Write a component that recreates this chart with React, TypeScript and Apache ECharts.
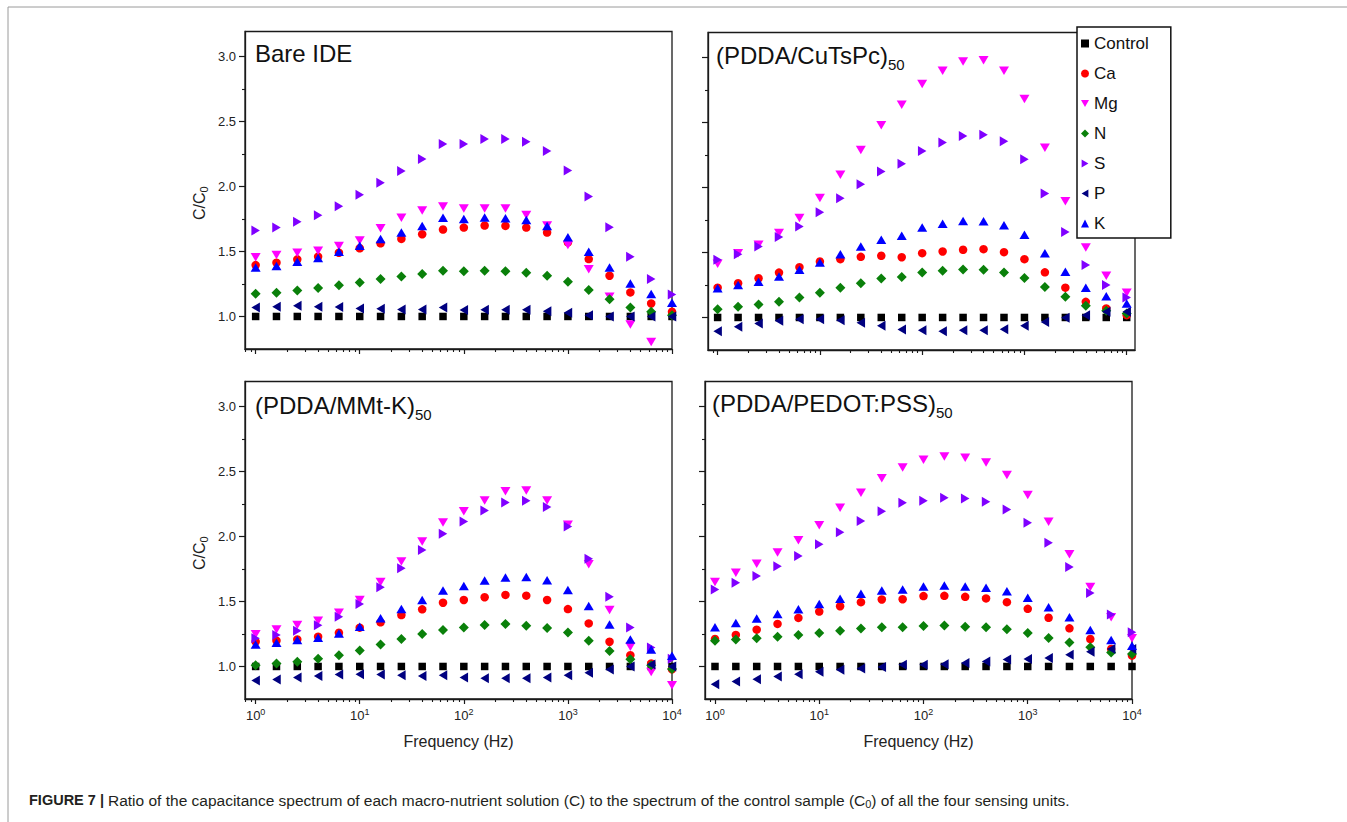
import React, { useEffect, useRef } from 'react';
import * as echarts from 'echarts';

// ---------- data ----------
const frequencies = [1, 1.585, 2.512, 3.981, 6.31, 10, 15.85, 25.12, 39.81, 63.1, 100, 158.5, 251.2, 398.1, 631, 1000, 1585, 2512, 3981, 6310, 10000];
const seriesNames = ['Control', 'Ca', 'Mg', 'N', 'S', 'P', 'K'];

// Bare IDE
const bareControl = [1, 1, 1, 1, 1, 1, 1, 1, 1, 1, 1, 1, 1, 1, 1, 1, 1, 1, 1, 1, 1];
const bareCa = [1.395, 1.413, 1.439, 1.46, 1.49, 1.524, 1.562, 1.596, 1.632, 1.668, 1.683, 1.699, 1.696, 1.683, 1.645, 1.57, 1.441, 1.313, 1.185, 1.1, 1.036];
const bareMg = [1.455, 1.473, 1.49, 1.506, 1.542, 1.583, 1.678, 1.758, 1.814, 1.845, 1.83, 1.83, 1.83, 1.78, 1.7, 1.549, 1.362, 1.151, 0.938, 0.804, 0.7];
const bareN = [1.175, 1.182, 1.2, 1.218, 1.239, 1.262, 1.288, 1.308, 1.326, 1.352, 1.347, 1.352, 1.347, 1.336, 1.313, 1.267, 1.203, 1.133, 1.069, 1.036, 1.01];
const bareS = [1.66, 1.683, 1.727, 1.778, 1.847, 1.935, 2.027, 2.117, 2.21, 2.325, 2.325, 2.364, 2.364, 2.343, 2.271, 2.122, 1.922, 1.686, 1.459, 1.287, 1.169];
const bareP = [1.069, 1.074, 1.082, 1.074, 1.072, 1.062, 1.059, 1.054, 1.054, 1.069, 1.049, 1.051, 1.051, 1.051, 1.041, 1.028, 1.01, 1.0, 1.0, 1.0, 1.0];
const bareK = [1.377, 1.388, 1.421, 1.449, 1.498, 1.544, 1.596, 1.645, 1.696, 1.758, 1.75, 1.76, 1.755, 1.742, 1.696, 1.609, 1.498, 1.377, 1.254, 1.172, 1.105];

// (PDDA/CuTsPc)50
const cuControl = [1, 1, 1, 1, 1, 1, 1, 1, 1, 1, 1, 1, 1, 1, 1, 1, 1, 1, 1, 1, 1];
const cuCa = [1.229, 1.263, 1.301, 1.345, 1.386, 1.43, 1.448, 1.466, 1.474, 1.463, 1.494, 1.507, 1.52, 1.525, 1.502, 1.448, 1.347, 1.229, 1.12, 1.069, 1.018];
const cuMg = [1.412, 1.494, 1.559, 1.649, 1.764, 1.919, 2.097, 2.287, 2.477, 2.634, 2.794, 2.897, 2.967, 2.977, 2.897, 2.678, 2.305, 1.893, 1.537, 1.321, 1.19];
const cuN = [1.064, 1.082, 1.1, 1.121, 1.154, 1.19, 1.229, 1.263, 1.299, 1.311, 1.345, 1.36, 1.368, 1.366, 1.345, 1.304, 1.234, 1.159, 1.09, 1.051, 1.03];
const cuS = [1.443, 1.486, 1.546, 1.618, 1.7, 1.808, 1.916, 2.024, 2.122, 2.181, 2.279, 2.344, 2.395, 2.405, 2.354, 2.215, 1.952, 1.656, 1.404, 1.249, 1.154];
const cuP = [0.894, 0.928, 0.954, 0.974, 0.987, 0.987, 0.979, 0.959, 0.936, 0.907, 0.902, 0.894, 0.902, 0.902, 0.91, 0.936, 0.966, 0.997, 1.018, 1.043, 1.043];
const cuK = [1.224, 1.25, 1.275, 1.314, 1.366, 1.422, 1.486, 1.546, 1.597, 1.628, 1.692, 1.721, 1.741, 1.739, 1.708, 1.636, 1.494, 1.352, 1.229, 1.164, 1.108];

// (PDDA/MMt-K)50
const mmControl = [1, 1, 1, 1, 1, 1, 1, 1, 1, 1, 1, 1, 1, 1, 1, 1, 1, 1, 1, 1, 1];
const mmCa = [1.19, 1.198, 1.208, 1.229, 1.259, 1.298, 1.339, 1.395, 1.439, 1.49, 1.511, 1.532, 1.55, 1.544, 1.511, 1.441, 1.331, 1.19, 1.087, 1.023, 0.979];
const mmMg = [1.247, 1.285, 1.318, 1.352, 1.413, 1.511, 1.65, 1.806, 1.96, 2.107, 2.192, 2.276, 2.346, 2.353, 2.276, 2.089, 1.786, 1.434, 1.151, 0.958, 0.856];
const mmN = [1.01, 1.023, 1.036, 1.059, 1.087, 1.123, 1.169, 1.211, 1.249, 1.28, 1.3, 1.318, 1.326, 1.313, 1.295, 1.262, 1.197, 1.118, 1.056, 1.01, 0.98];
const mmS = [1.216, 1.241, 1.275, 1.316, 1.383, 1.48, 1.609, 1.755, 1.896, 2.02, 2.115, 2.199, 2.261, 2.274, 2.225, 2.076, 1.827, 1.536, 1.3, 1.146, 1.06];
const mmP = [0.892, 0.9, 0.915, 0.926, 0.938, 0.941, 0.938, 0.933, 0.926, 0.933, 0.915, 0.91, 0.91, 0.91, 0.915, 0.933, 0.951, 0.977, 1.0, 1.015, 1.0];
const mmK = [1.169, 1.182, 1.203, 1.221, 1.254, 1.306, 1.37, 1.442, 1.511, 1.583, 1.619, 1.66, 1.683, 1.688, 1.663, 1.588, 1.465, 1.323, 1.208, 1.131, 1.082];

// (PDDA/PEDOT:PSS)50
const peControl = [1, 1, 1, 1, 1, 1, 1, 1, 1, 1, 1, 1, 1, 1, 1, 1, 1, 1, 1, 1, 1];
const peCa = [1.211, 1.242, 1.283, 1.327, 1.373, 1.422, 1.463, 1.494, 1.515, 1.517, 1.541, 1.543, 1.535, 1.523, 1.494, 1.443, 1.374, 1.293, 1.211, 1.134, 1.083];
const peMg = [1.649, 1.721, 1.79, 1.875, 1.97, 2.086, 2.22, 2.336, 2.447, 2.529, 2.588, 2.614, 2.604, 2.568, 2.472, 2.318, 2.112, 1.862, 1.61, 1.378, 1.216];
const peN = [1.198, 1.208, 1.216, 1.229, 1.242, 1.257, 1.275, 1.291, 1.301, 1.301, 1.311, 1.314, 1.306, 1.301, 1.286, 1.258, 1.219, 1.185, 1.147, 1.108, 1.096];
const peS = [1.592, 1.644, 1.695, 1.77, 1.849, 1.94, 2.032, 2.117, 2.192, 2.259, 2.274, 2.297, 2.29, 2.266, 2.207, 2.104, 1.95, 1.764, 1.564, 1.399, 1.263];
const peP = [0.864, 0.884, 0.902, 0.923, 0.941, 0.959, 0.974, 0.985, 0.995, 1.013, 1.013, 1.018, 1.026, 1.039, 1.054, 1.057, 1.065, 1.09, 1.113, 1.134, 1.134];
const peK = [1.301, 1.335, 1.368, 1.404, 1.44, 1.481, 1.52, 1.559, 1.584, 1.592, 1.615, 1.623, 1.615, 1.605, 1.579, 1.528, 1.456, 1.378, 1.281, 1.204, 1.16];

const majorXTicks = [1, 10, 100, 1000, 10000];
const minorXTicks = [0.8, 0.9, 2, 3, 4, 5, 6, 7, 8, 9, 20, 30, 40, 50, 60, 70, 80, 90, 200, 300, 400, 500, 600, 700, 800, 900, 2000, 3000, 4000, 5000, 6000, 7000, 8000, 9000];
const majorYTicks = [1, 1.5, 2, 2.5, 3];
const minorYTicks = [1.25, 1.75, 2.25, 2.75];

// ---------- styles & layout ----------
const FONT = '"Liberation Sans", Arial, Helvetica, sans-serif';
const markerStyles: Record<string, { symbol: string; size: number | number[]; rotate: number; color: string; legendIcon: string }> = {
  Control: { symbol: 'rect', size: 7.5, rotate: 0, color: '#000000', legendIcon: 'rect' },
  Ca: { symbol: 'circle', size: 8.5, rotate: 0, color: '#ff0000', legendIcon: 'circle' },
  Mg: { symbol: 'triangle', size: [10, 8.5], rotate: 180, color: '#ff00ff', legendIcon: 'path://M0,0L10,0L5,8.5Z' },
  N: { symbol: 'diamond', size: 10, rotate: 0, color: '#0a800a', legendIcon: 'diamond' },
  S: { symbol: 'triangle', size: [10, 8.5], rotate: -90, color: '#8000ff', legendIcon: 'path://M0,0L8.5,5L0,10Z' },
  P: { symbol: 'triangle', size: [10, 8.5], rotate: 90, color: '#000080', legendIcon: 'path://M8.5,0L8.5,10L0,5Z' },
  K: { symbol: 'triangle', size: [10, 8.5], rotate: 0, color: '#0000ff', legendIcon: 'triangle' },
};

const panels = [
  {
    title: 'Bare IDE', sub: '', left: 245, top: 31.5, width: 427, height: 317.5, xMin: 0.79, xMax: 10000,
    showXLabels: false, showYLabels: true, titleX: 255, titleY: 36,
    values: { Control: bareControl, Ca: bareCa, Mg: bareMg, N: bareN, S: bareS, P: bareP, K: bareK },
  },
  {
    title: '(PDDA/CuTsPc)', sub: '50', left: 708, top: 32.5, width: 427, height: 317.5, xMin: 0.805, xMax: 12050,
    showXLabels: false, showYLabels: false, titleX: 716, titleY: 38.5,
    values: { Control: cuControl, Ca: cuCa, Mg: cuMg, N: cuN, S: cuS, P: cuP, K: cuK },
  },
  {
    title: '(PDDA/MMt-K)', sub: '50', left: 245, top: 381.5, width: 427, height: 317.5, xMin: 0.79, xMax: 10000,
    showXLabels: true, showYLabels: true, titleX: 255, titleY: 388.5,
    values: { Control: mmControl, Ca: mmCa, Mg: mmMg, N: mmN, S: mmS, P: mmP, K: mmK },
  },
  {
    title: '(PDDA/PEDOT:PSS)', sub: '50', left: 705, top: 381.5, width: 427, height: 317.5, xMin: 0.802, xMax: 10000,
    showXLabels: true, showYLabels: false, titleX: 712, titleY: 386,
    values: { Control: peControl, Ca: peCa, Mg: peMg, N: peN, S: peS, P: peP, K: peK },
  },
];

const AXIS_COLOR = '#1a1a1a';

export default function App() {
  const ref = useRef<HTMLDivElement>(null);

  useEffect(() => {
    if (!ref.current) return;
    const chart = echarts.init(ref.current, null, { renderer: 'svg' });

    const xAxes: any[] = [];
    const yAxes: any[] = [];
    panels.forEach((p, i) => {
      xAxes.push({
        type: 'log', logBase: 10, gridIndex: i, min: p.xMin, max: p.xMax, position: 'bottom',
        axisLine: { show: true, onZero: false, lineStyle: { color: AXIS_COLOR, width: 1.3 } },
        axisTick: { show: true, customValues: majorXTicks, length: 5, inside: false, lineStyle: { color: AXIS_COLOR, width: 1.2 } },
        axisLabel: {
          show: p.showXLabels, customValues: majorXTicks, margin: 8, color: '#222', fontFamily: FONT,
          formatter: (v: number) => `{a|10}{b|${Math.round(Math.log10(v))}}`,
          rich: {
            a: { fontSize: 13, color: '#222', fontFamily: FONT },
            b: { fontSize: 9, color: '#222', fontFamily: FONT, padding: [0, 0, 7, 0] },
          },
        },
        splitLine: { show: false },
        minorTick: { show: false },
        name: p.showXLabels ? 'Frequency (Hz)' : '',
        nameLocation: 'middle', nameGap: 34,
        nameTextStyle: { fontSize: 16, color: '#222', fontFamily: FONT },
      });
      xAxes.push({
        type: 'log', logBase: 10, gridIndex: i, min: p.xMin, max: p.xMax, position: 'bottom',
        axisLine: { show: false, onZero: false },
        axisTick: { show: true, customValues: minorXTicks, length: 3, inside: false, lineStyle: { color: AXIS_COLOR, width: 1.1 } },
        axisLabel: { show: false },
        splitLine: { show: false },
      });
      yAxes.push({
        type: 'value', gridIndex: i, min: 0.75, max: 3.19, position: 'left',
        axisLine: { show: true, onZero: false, lineStyle: { color: AXIS_COLOR, width: 1.3 } },
        axisTick: { show: true, customValues: majorYTicks, length: 6, inside: false, lineStyle: { color: AXIS_COLOR, width: 1.2 } },
        axisLabel: {
          show: p.showYLabels, customValues: majorYTicks, margin: 9, fontSize: 13, color: '#222', fontFamily: FONT,
          formatter: (v: number) => v.toFixed(1),
        },
        splitLine: { show: false },
        name: p.showYLabels ? '{a|C/C}{b|0}' : '',
        nameLocation: 'middle', nameGap: 36, nameRotate: 90,
        nameTextStyle: {
          fontFamily: FONT, color: '#222',
          rich: {
            a: { fontSize: 16, color: '#222', fontFamily: FONT },
            b: { fontSize: 11, color: '#222', fontFamily: FONT, padding: [8, 26, 0, 0] },
          },
        },
      });
      yAxes.push({
        type: 'value', gridIndex: i, min: 0.75, max: 3.19, position: 'left',
        axisLine: { show: false, onZero: false },
        axisTick: { show: true, customValues: minorYTicks, length: 3, inside: false, lineStyle: { color: AXIS_COLOR, width: 1.1 } },
        axisLabel: { show: false },
        splitLine: { show: false },
      });
    });

    const series: any[] = [];
    panels.forEach((p, i) => {
      seriesNames.forEach((n) => {
        const st = markerStyles[n];
        const vals = (p.values as any)[n] as number[];
        series.push({
          type: 'scatter', name: n, xAxisIndex: 2 * i, yAxisIndex: 2 * i,
          data: frequencies.map((f, k) => [f, vals[k]]),
          symbol: st.symbol, symbolSize: st.size, symbolRotate: st.rotate,
          itemStyle: { color: st.color, opacity: 1 },
          emphasis: { disabled: true },
          clip: true,
        });
      });
    });

    const option: any = {
      animation: false,
      backgroundColor: '#ffffff',
      textStyle: { fontFamily: FONT },
      title: panels.map((p) => ({
        text: p.sub ? `{a|${p.title}}{b|${p.sub}}` : `{a|${p.title}}`,
        left: p.titleX, top: p.titleY, padding: 0,
        textStyle: {
          fontWeight: 'normal',
          rich: {
            a: { fontSize: 24, lineHeight: 34, color: '#111', fontFamily: FONT, fontWeight: 'normal' },
            b: { fontSize: 15, color: '#111', fontFamily: FONT, fontWeight: 'normal', padding: [18, 0, 0, 0] },
          },
        },
      })),
      legend: {
        data: seriesNames.map((n) => ({ name: n, icon: markerStyles[n].legendIcon })),
        orient: 'vertical', left: 1077, top: 27,
        padding: [8, 22, 6, 4], itemGap: 13, itemWidth: 8, itemHeight: 8,
        backgroundColor: '#ffffff', borderColor: '#111', borderWidth: 1.5, borderRadius: 0,
        textStyle: { fontSize: 17, lineHeight: 17, color: '#111', fontFamily: FONT },
        selectedMode: false, z: 20,
      },
      grid: panels.map((p) => ({
        left: p.left, top: p.top, width: p.width, height: p.height,
        show: true, borderColor: AXIS_COLOR, borderWidth: 1.3, backgroundColor: 'transparent',
        containLabel: false, outerBoundsMode: 'none',
      })),
      xAxis: xAxes,
      yAxis: yAxes,
      series,
      graphic: [
        { type: 'line', silent: true, shape: { x1: 8, y1: 7, x2: 1347, y2: 7 }, style: { stroke: '#9a9a9a', lineWidth: 1 } },
        { type: 'line', silent: true, shape: { x1: 8, y1: 7, x2: 8, y2: 822 }, style: { stroke: '#9a9a9a', lineWidth: 1 } },
        {
          type: 'text', silent: true, x: 29, y: 800,
          style: {
            text: '{b|FIGURE 7 | }{n|Ratio of the capacitance spectrum of each macro-nutrient solution (C) to the spectrum of the control sample (C}{s|0}{n|) of all the four sensing units.}',
            verticalAlign: 'middle',
            rich: {
              b: { fontSize: 14.5, fontWeight: 'bold', fill: '#231f20', fontFamily: FONT },
              n: { fontSize: 15.5, fill: '#231f20', fontFamily: FONT },
              s: { fontSize: 11, fill: '#231f20', fontFamily: FONT, padding: [7, 0, 0, 0] },
            },
          },
        },
      ],
    };

    chart.setOption(option);
    return () => chart.dispose();
  }, []);

  return (
    <div
      ref={ref}
      style={{ position: 'absolute', left: 0, top: 0, width: 1347, height: 822, background: '#ffffff' }}
    />
  );
}
